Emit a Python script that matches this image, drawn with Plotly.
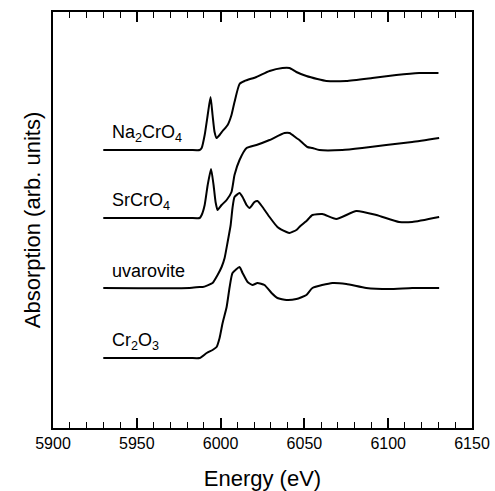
import plotly.graph_objects as go

# Cr K-edge XANES spectra, each stacked above the next by a fixed offset.
# Absorption values are relative to each spectrum's own pre-edge baseline.

na2cro4_energy = [5930, 5981.5, 5987.5, 5988.7, 5990.5, 5992.3, 5994.0, 5995.2, 5996.4,
                  5997.6, 5999.4, 6001.2, 6004.2, 6006.5, 6008.3, 6011.3, 6014.3, 6021.4,
                  6029.2, 6036.9, 6041.1, 6045.2, 6051.2, 6057.7, 6063.1, 6075.0, 6090.5,
                  6104.8, 6118.5, 6130.0]
na2cro4_abs = [0.00, 0.00, 0.00, 0.02, 0.15, 0.35, 0.53, 0.35, 0.18,
               0.12, 0.15, 0.19, 0.25, 0.35, 0.48, 0.66, 0.69, 0.73,
               0.79, 0.82, 0.82, 0.78, 0.74, 0.71, 0.69, 0.69, 0.72,
               0.75, 0.77, 0.77]

srcro4_energy = [5930, 5981.5, 5987.5, 5988.7, 5990.5, 5992.3, 5994.3, 5995.8, 5997.0,
                 5998.2, 6000.6, 6003.6, 6006.5, 6008.3, 6011.3, 6015.5, 6021.4, 6029.2,
                 6038.1, 6041.1, 6045.2, 6047.0, 6051.8, 6054.8, 6058.9, 6072.6, 6084.5,
                 6098.8, 6114.3, 6130.4]
srcro4_abs = [0.00, 0.00, 0.00, 0.03, 0.13, 0.33, 0.49, 0.33, 0.16,
              0.08, 0.13, 0.18, 0.26, 0.43, 0.58, 0.70, 0.73, 0.78,
              0.85, 0.85, 0.80, 0.78, 0.71, 0.70, 0.68, 0.68, 0.70,
              0.73, 0.76, 0.80]

uvarovite_energy = [5930, 5981.5, 5987.5, 5989.3, 5995.2, 5998.2, 6000.6, 6002.4, 6004.2,
                    6006.0, 6007.1, 6008.3, 6011.3, 6013.1, 6015.5, 6017.3, 6020.2, 6022.0,
                    6025.0, 6029.2, 6033.9, 6039.3, 6041.1, 6045.2, 6047.0, 6051.2, 6054.8,
                    6060.7, 6069.0, 6081.0, 6092.9, 6106.5, 6114.3, 6130.4]
uvarovite_abs = [0.00, 0.00, 0.01, 0.01, 0.05, 0.13, 0.21, 0.30, 0.46,
                 0.63, 0.80, 0.91, 0.95, 0.91, 0.83, 0.80, 0.86, 0.87,
                 0.81, 0.71, 0.61, 0.56, 0.55, 0.58, 0.61, 0.67, 0.73,
                 0.74, 0.69, 0.77, 0.73, 0.66, 0.66, 0.71]

cr2o3_energy = [5930, 5981.5, 5987.5, 5991.7, 5995.2, 5997.6, 5999.4, 6001.2, 6003.6,
                6005.4, 6007.1, 6011.3, 6013.1, 6016.1, 6019.0, 6022.0, 6026.2, 6030.4,
                6033.9, 6039.3, 6045.2, 6051.2, 6054.8, 6066.7, 6075.0, 6086.9, 6100.6,
                6114.3, 6130.4]
cr2o3_abs = [0.00, 0.00, 0.00, 0.05, 0.08, 0.11, 0.20, 0.35, 0.51,
             0.71, 0.85, 0.91, 0.85, 0.76, 0.73, 0.75, 0.73, 0.65,
             0.60, 0.58, 0.59, 0.63, 0.70, 0.75, 0.74, 0.70, 0.69,
             0.70, 0.70]

sample_names = ["Na<sub>2</sub>CrO<sub>4</sub>", "SrCrO<sub>4</sub>", "uvarovite",
                "Cr<sub>2</sub>O<sub>3</sub>"]
vertical_offsets = [2.78, 2.10, 1.40, 0.70]

x_ticks = [5900, 5950, 6000, 6050, 6100, 6150]

spectra = [
    (na2cro4_energy, na2cro4_abs),
    (srcro4_energy, srcro4_abs),
    (uvarovite_energy, uvarovite_abs),
    (cr2o3_energy, cr2o3_abs),
]

FONT = "Liberation Sans, Arial, Helvetica, sans-serif"

fig = go.Figure()
for (energy, absorb), offset, name in zip(spectra, vertical_offsets, sample_names):
    fig.add_trace(go.Scatter(
        x=energy,
        y=[a + offset for a in absorb],
        mode="lines",
        line=dict(color="black", width=2, shape="spline", smoothing=0.5),
        name=name,
        showlegend=False,
        hoverinfo="skip",
    ))
    fig.add_annotation(
        x=5934, y=offset + 0.17,
        xref="x", yref="y",
        text=name,
        showarrow=False,
        xanchor="left", yanchor="middle",
        font=dict(family=FONT, size=18, color="black"),
    )

fig.update_layout(
    width=495, height=491,
    margin=dict(l=53, r=23, t=12, b=63),
    paper_bgcolor="white",
    plot_bgcolor="white",
    font=dict(family=FONT, color="black"),
)

fig.update_xaxes(
    range=[5900, 6150],
    tickvals=x_ticks,
    ticktext=[str(v) for v in x_ticks],
    ticks="inside", ticklen=10, tickwidth=1.5, tickcolor="black",
    minor=dict(dtick=10, ticks="inside", ticklen=6, tickwidth=1.2, tickcolor="black"),
    showline=True, linecolor="black", linewidth=1.5, mirror="ticks",
    showgrid=False, zeroline=False, automargin=False,
    tickfont=dict(family=FONT, size=16, color="black"),
    title=dict(text="Energy (eV)", font=dict(family=FONT, size=22, color="black"), standoff=20),
)

fig.update_yaxes(
    range=[0, 4.16],
    showticklabels=False, ticks="",
    showline=True, linecolor="black", linewidth=1.5, mirror=True,
    showgrid=False, zeroline=False, automargin=False,
    title=dict(text="Absorption (arb. units)", font=dict(family=FONT, size=22, color="black"), standoff=5),
)

fig.write_html("out.html")
